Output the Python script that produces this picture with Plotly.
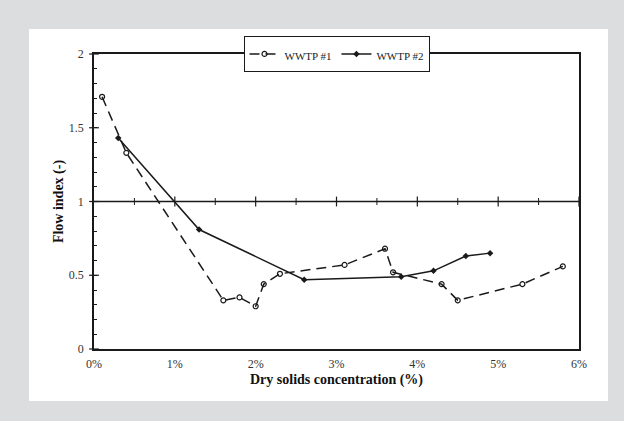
import plotly.graph_objects as go

# ---- data ----
wwtp1_x = [0.1, 0.4, 1.6, 1.8, 2.0, 2.1, 2.3, 3.1, 3.6, 3.7, 4.3, 4.5, 5.3, 5.8]
wwtp1_y = [1.71, 1.33, 0.33, 0.35, 0.29, 0.44, 0.51, 0.57, 0.68, 0.52, 0.44, 0.33, 0.44, 0.56]
wwtp2_x = [0.3, 1.3, 2.6, 3.8, 4.2, 4.6, 4.9]
wwtp2_y = [1.43, 0.81, 0.47, 0.49, 0.53, 0.63, 0.65]

x_major_ticks = [1, 2, 3, 4, 5, 6]
x_minor_ticks = [0.5, 1.5, 2.5, 3.5, 4.5, 5.5]
y_major_ticks = [0, 0.5, 1, 1.5, 2]
crossing_level = 1

FONT = "Liberation Serif"
INK = "#1a1a1a"
BG = "#dcdddf"


def legend_label(text):
    return "<span style='font-size:11px'>" + text + "</span>"


fig = go.Figure()

fig.add_trace(go.Scatter(
    x=wwtp1_x, y=wwtp1_y, name=legend_label("WWTP #1"), mode="lines+markers",
    line=dict(color=INK, width=1.5, dash="10px,6px"),
    marker=dict(symbol="circle-open", size=5, color=INK, line=dict(width=1.2, color=INK)),
))
fig.add_trace(go.Scatter(
    x=wwtp2_x, y=wwtp2_y, name=legend_label("WWTP #2"), mode="lines+markers",
    line=dict(color=INK, width=1.5),
    marker=dict(symbol="diamond", size=5, color=INK),
))

# crossing tick marks on the horizontal axis line at y = 1
fig.add_trace(go.Scatter(
    x=x_major_ticks, y=[crossing_level] * len(x_major_ticks), mode="markers",
    marker=dict(symbol="line-ns-open", size=7, color=INK, line=dict(width=1.2, color=INK)),
    showlegend=False, hoverinfo="skip", cliponaxis=False,
))
fig.add_trace(go.Scatter(
    x=x_minor_ticks, y=[crossing_level] * len(x_minor_ticks), mode="markers",
    marker=dict(symbol="line-ns-open", size=5, color=INK, line=dict(width=1, color=INK)),
    showlegend=False, hoverinfo="skip", cliponaxis=False,
))
# crossing major ticks on y axis
fig.add_trace(go.Scatter(
    x=[0] * len(y_major_ticks), y=y_major_ticks, mode="markers",
    marker=dict(symbol="line-ew-open", size=7, color=INK, line=dict(width=1.2, color=INK)),
    showlegend=False, hoverinfo="skip", cliponaxis=False,
))

# white panel
fig.add_shape(type="rect", xref="paper", yref="paper",
              x0=-0.134, x1=1.0598, y0=-0.176, y1=1.0847,
              fillcolor="white", line=dict(width=0), layer="below")
# horizontal line at flow index = 1
fig.add_shape(type="line", xref="x", yref="y", x0=0, x1=6,
              y0=crossing_level, y1=crossing_level,
              line=dict(color=INK, width=1.5), layer="above")

fig.update_layout(
    width=624, height=421,
    margin=dict(l=94, r=45, t=54, b=72),
    paper_bgcolor=BG, plot_bgcolor="white",
    font=dict(family=FONT, size=12, color="#333333"),
    showlegend=True,
    legend=dict(orientation="h", x=0.5, xanchor="center", y=1.0, yanchor="middle",
                bgcolor="white", bordercolor=INK, borderwidth=1,
                font=dict(family=FONT, size=16, color="#222222"),
                itemwidth=30, tracegroupgap=0),
    xaxis=dict(range=[0, 6], dtick=1, tick0=0, ticksuffix="%",
               showgrid=False, zeroline=False, showline=True, linecolor=INK, linewidth=1.5,
               mirror=True, ticks="", ticklabelstandoff=3,
               tickfont=dict(family=FONT, size=12, color="#333333"),
               title=dict(text="<b>Dry solids concentration (%)</b>", standoff=4,
                          font=dict(family=FONT, size=14, color="#111111"))),
    yaxis=dict(range=[0, 2], dtick=0.5, tick0=0,
               showgrid=False, zeroline=False, showline=True, linecolor=INK, linewidth=1.5,
               mirror=True, ticks="inside", ticklen=3, tickcolor=INK, tickwidth=1,
               ticklabelstandoff=6,
               tickfont=dict(family=FONT, size=12, color="#333333"),
               minor=dict(dtick=0.1, ticks="inside", ticklen=3, tickcolor=INK, tickwidth=1,
                          showgrid=False),
               title=dict(text="<b>Flow index (-)</b>", standoff=2,
                          font=dict(family=FONT, size=14, color="#111111"))),
)

fig.write_html(
    "out.html",
    config={"displayModeBar": False},
    post_script="document.body.style.margin='0';document.body.style.background='" + BG + "';",
)
